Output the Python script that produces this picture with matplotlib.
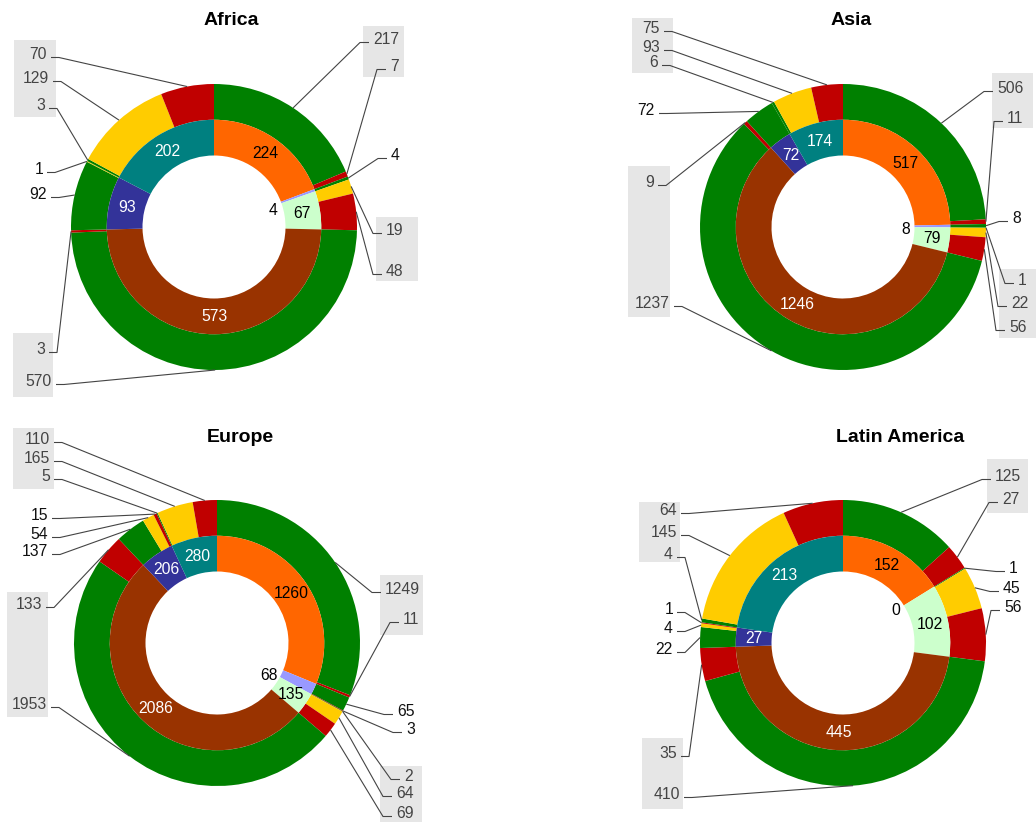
import matplotlib
matplotlib.use("Agg")
import matplotlib.pyplot as plt
from matplotlib.patches import Rectangle
import numpy as np

W, H = 1036, 823
DPI = 100
plt.rcParams['font.family'] = ['Liberation Sans', 'DejaVu Sans']

# ---------------- data ----------------
regions = ["Africa", "Asia", "Europe", "Latin America"]

# inner ring (6 categories, clockwise from 12 o'clock)
africa_inner = [224, 4, 67, 573, 93, 202]
asia_inner = [517, 8, 79, 1246, 72, 174]
europe_inner = [1260, 68, 135, 2086, 206, 280]
latam_inner = [152, 0, 102, 445, 27, 213]

# outer ring: split of each inner category into green / yellow / red
africa_green = [217, 4, 0, 570, 92, 3]
africa_yellow = [0, 0, 19, 0, 1, 129]
africa_red = [7, 0, 48, 3, 0, 70]

asia_green = [506, 8, 1, 1237, 72, 6]
asia_yellow = [0, 0, 22, 0, 0, 93]
asia_red = [11, 0, 56, 9, 0, 75]

europe_green = [1249, 65, 2, 1953, 137, 5]
europe_yellow = [0, 0, 64, 0, 54, 165]
europe_red = [11, 3, 69, 133, 15, 110]

latam_green = [125, 0, 1, 410, 22, 4]
latam_yellow = [0, 0, 45, 0, 4, 145]
latam_red = [27, 0, 56, 35, 1, 64]

inner_data = [africa_inner, asia_inner, europe_inner, latam_inner]
outer_data = [
    (africa_green, africa_yellow, africa_red),
    (asia_green, asia_yellow, asia_red),
    (europe_green, europe_yellow, europe_red),
    (latam_green, latam_yellow, latam_red),
]

# ---------------- styles / layout ----------------
INNER_COLORS = ['#ff6600', '#9999ff', '#ccffcc', '#993300', '#333399', '#008080']
INNER_TEXT = ['black', 'black', 'black', 'white', 'white', 'white']
OUTER_COLORS = ['#008000', '#ffcc00', '#c00000']

CENTERS = [(214, 227), (843, 227), (217, 643), (843, 643)]
TITLE_POS = [(231, 18), (851, 18), (240, 435), (900, 435)]
R_OUT = 143.0
R_MID = 107.25
R_HOLE = 71.5
# vertical offset (px, downwards) of the small inner label placed in the hole
SMALL_LABEL_DY = [8.5, 3.0, 1.5, 5.5]

# label anchor per outer segment (clockwise): side, x (start for R / end for L), y centre
LABEL_POS = [
    [('R', 373, 38), ('R', 390, 65), ('R', 391, 154), ('R', 386, 229), ('R', 386, 270),
     ('L', 52, 380), ('L', 45, 348), ('L', 47, 193), ('L', 43, 168), ('L', 45, 104),
     ('L', 49, 77), ('L', 47, 53)],
    [('R', 997, 87), ('R', 1007, 117), ('R', 1012, 217), ('R', 1018, 279), ('R', 1011, 302),
     ('R', 1009, 326), ('L', 670, 302), ('L', 654, 181), ('L', 655, 109), ('L', 658, 61),
     ('L', 660, 46), ('L', 660, 27)],
    [('R', 385, 588), ('R', 403, 618), ('R', 397, 710), ('R', 406, 728), ('R', 404, 775),
     ('R', 396, 792), ('R', 396, 812), ('L', 47, 703), ('L', 42, 603), ('L', 48, 550),
     ('L', 48, 533), ('L', 48, 514), ('L', 50, 475), ('L', 50, 457), ('L', 50, 438)],
    [('R', 995, 475), ('R', 1002, 498), ('R', 1009, 567), ('R', 1003, 587), ('R', 1004, 606),
     ('L', 680, 793), ('L', 677, 752), ('L', 673, 648), ('L', 673, 627), ('L', 673, 608),
     ('L', 673, 553), ('L', 677, 531), ('L', 677, 509)],
]

# grey label boxes (x0, y0, x1, y1) in pixels
BOXES = [
    [(363, 26, 404, 77), (376, 217, 418, 281), (14, 40, 56, 117), (13, 333, 53, 397)],
    [(632, 18, 673, 73), (628, 166, 670, 317), (992, 73, 1033, 128), (999, 269, 1036, 338)],
    [(13, 428, 54, 489), (7, 592, 48, 717), (380, 575, 423, 635), (380, 766, 422, 822)],
    [(639, 502, 680, 562), (642, 738, 683, 809), (987, 459, 1028, 513)],
]

LABEL_FS = 11.3
TITLE_FS = 14
LINE_COLOR = '#444444'


def fy(y):
    return H - y


def polar(cx, cy, r, ang):
    a = np.deg2rad(ang)
    return cx + r * np.sin(a), cy - r * np.cos(a)


fig = plt.figure(figsize=(W / DPI, H / DPI), dpi=DPI)
ax = fig.add_axes([0, 0, 1, 1])

for k, name in enumerate(regions):
    cx, cy = CENTERS[k]
    inner = inner_data[k]
    g, yl, rd = outer_data[k]

    # outer segments
    seg_vals, seg_cols = [], []
    for i in range(len(inner)):
        for v, c in zip((g[i], yl[i], rd[i]), OUTER_COLORS):
            if v > 0:
                seg_vals.append(v)
                seg_cols.append(c)

    ax.pie(seg_vals, radius=R_OUT, center=(cx, fy(cy)), startangle=90,
           counterclock=False, colors=seg_cols,
           wedgeprops=dict(width=R_OUT - R_MID, linewidth=0))
    ax.pie(inner, radius=R_MID, center=(cx, fy(cy)), startangle=90,
           counterclock=False, colors=INNER_COLORS,
           wedgeprops=dict(width=R_MID - R_HOLE, linewidth=0))

    # inner labels
    total = float(sum(inner))
    cum = 0.0
    for i, v in enumerate(inner):
        mid = (cum + v / 2.0) / total * 360.0
        cum += v
        if i == 1:
            px, py = polar(cx, cy, R_HOLE, mid)
            ax.text(px - 4, fy(py + SMALL_LABEL_DY[k]), str(v), ha='right', va='center',
                    fontsize=LABEL_FS, color='black')
        else:
            px, py = polar(cx, cy, (R_MID + R_HOLE) / 2.0, mid)
            ax.text(px, fy(py + 0.5), str(v), ha='center', va='center',
                    fontsize=LABEL_FS, color=INNER_TEXT[i])

    # grey boxes
    for (x0, y0, x1, y1) in BOXES[k]:
        ax.add_patch(Rectangle((x0, fy(y1)), x1 - x0, y1 - y0,
                               facecolor='#e6e6e6', edgecolor='none', zorder=0))

    # outer labels with leader lines
    stotal = float(sum(seg_vals))
    cum = 0.0
    for j, v in enumerate(seg_vals):
        mid = (cum + v / 2.0) / stotal * 360.0
        cum += v
        side, lx, ly = LABEL_POS[k][j]
        ax_, ay_ = polar(cx, cy, R_OUT, mid)
        line_y = ly + 4.5
        if side == 'R':
            ex, tx = lx - 13, lx - 4
            ha = 'left'
        else:
            ex, tx = lx + 12, lx + 4
            ha = 'right'
        ax.plot([ax_, ex, tx], [fy(ay_), fy(line_y), fy(line_y)],
                color=LINE_COLOR, lw=0.8, solid_capstyle='butt', zorder=3)
        boxed = any(x0 - 2 <= lx <= x1 + 2 and y0 <= ly <= y1
                    for (x0, y0, x1, y1) in BOXES[k])
        ax.text(lx, fy(ly + 5.6), str(v), ha=ha, va='baseline',
                fontsize=LABEL_FS, color='#444444' if boxed else '#111111', zorder=4)

    tx_, ty_ = TITLE_POS[k]
    ax.text(tx_, fy(ty_ + 7), name, ha='center', va='baseline',
            fontsize=TITLE_FS, fontweight='bold', color='black')

ax.set_xlim(0, W)
ax.set_ylim(0, H)
ax.set_aspect('auto')
ax.axis('off')

fig.savefig('out.png', dpi=DPI)
